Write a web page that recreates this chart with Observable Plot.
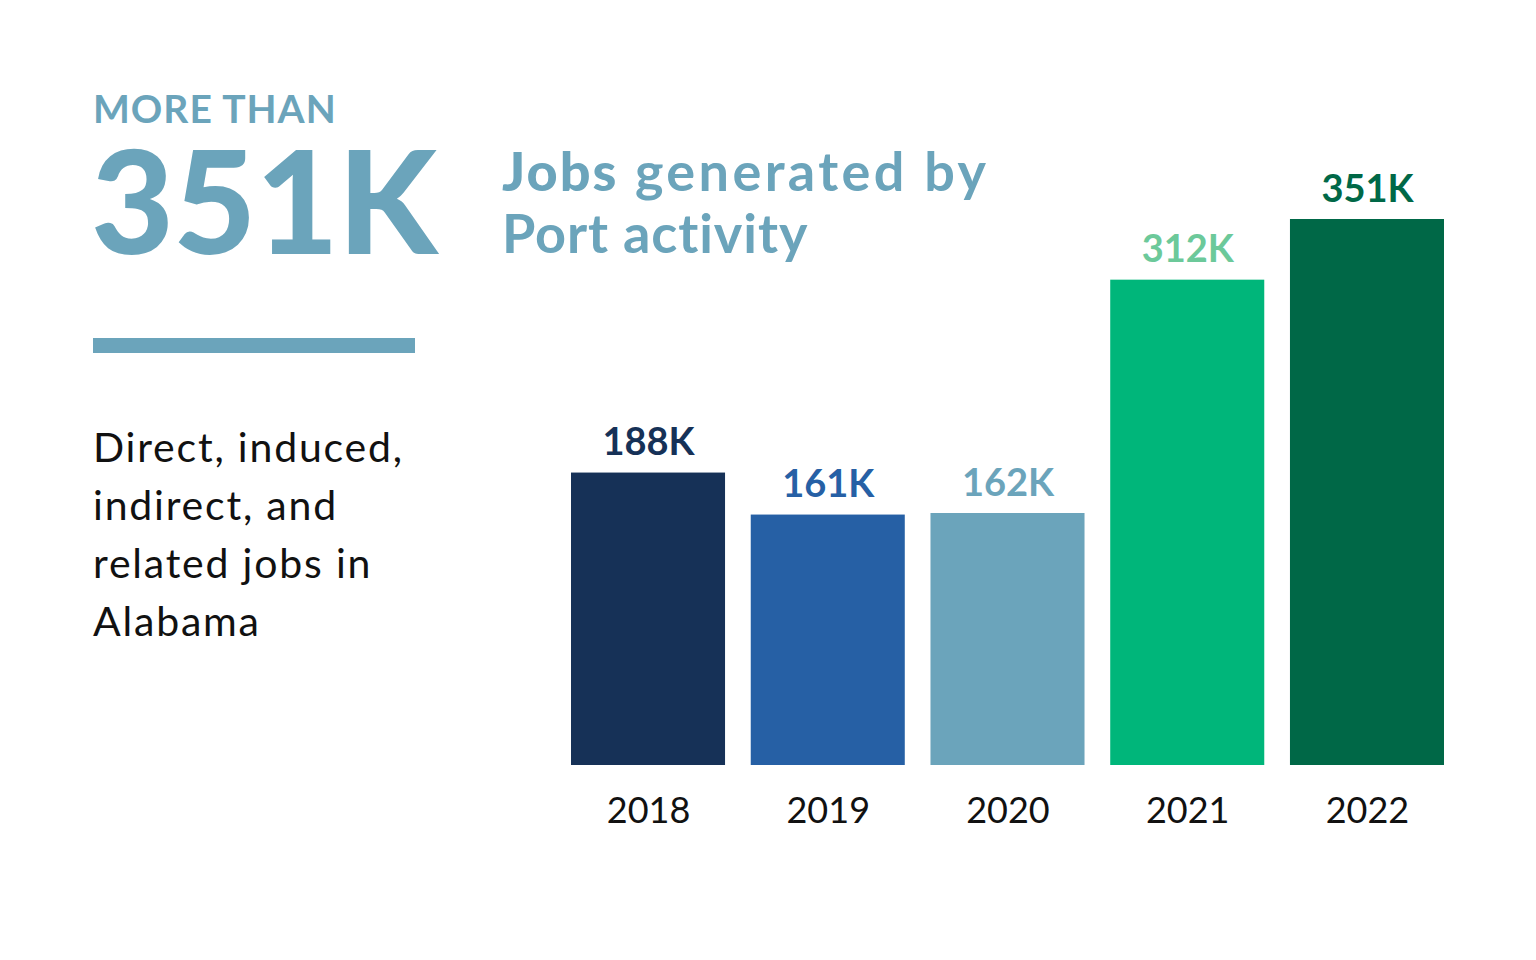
<!DOCTYPE html>
<html>
<head>
<meta charset="utf-8">
<script src="https://cdn.jsdelivr.net/npm/d3@7"></script>
<script src="https://cdn.jsdelivr.net/npm/@observablehq/plot@0.6"></script>
<style>
  html, body { margin: 0; padding: 0; background: #fff; }
  #wrap { position: relative; width: 1536px; height: 960px; overflow: hidden; font-family: Lato, sans-serif; }
  #chart { position: absolute; left: 0; top: 0; }
  .t { position: absolute; white-space: nowrap; margin: 0; }
  #more { left: 93px; top: 84px; font-size: 39px; line-height: 48px; font-weight: 700; color: #6ba4bb; letter-spacing: 1px; }
  #big { left: 91px; top: 144px; font-size: 143px; line-height: 110px; font-weight: 900; color: #6ba4bb; letter-spacing: -0.6px; }
  #jobs1 { left: 502px; top: 140px; font-size: 54px; line-height: 62px; font-weight: 700; color: #6ba4bb; letter-spacing: 3.4px; }
  #jobs1 b { font-weight: 900; letter-spacing: 2px; }
  #jobs2 { left: 502px; top: 202px; font-size: 54px; line-height: 62px; font-weight: 700; color: #6ba4bb; letter-spacing: 0.9px; }
  #rule { left: 93px; top: 338px; width: 322px; height: 15px; background: #6ba4bb; }
  #desc { left: 93px; top: 418px; font-size: 41px; line-height: 58px; font-weight: 400; color: #111; letter-spacing: 1.8px; }
</style>
</head>
<body>
<div id="wrap">
  <div id="chart"></div>
  <div class="t" id="more">MORE THAN</div>
  <div class="t" id="big">351K</div>
  <div class="t" id="jobs1"><b>Jobs</b> generated by</div>
  <div class="t" id="jobs2">Port activity</div>
  <div class="t" id="rule"></div>
  <div class="t" id="desc">Direct, induced,<br>indirect, and<br>related jobs in<br>Alabama</div>
</div>
<script>
const years = ["2018", "2019", "2020", "2021", "2022"];
const jobs = [188, 161, 162, 312, 351];
const labels = ["188K", "161K", "162K", "312K", "351K"];
const barColors = ["#163157", "#2660a5", "#6ba4bb", "#00b67a", "#006847"];
const labelColors = ["#163157", "#2660a5", "#6ba4bb", "#6cc99a", "#006847"];

const data = years.map((y, i) => ({year: y, value: jobs[i], label: labels[i], bar: barColors[i], lab: labelColors[i]}));

const chart = Plot.plot({
  width: 1536,
  height: 960,
  marginLeft: 571,
  marginRight: 92,
  marginTop: 219,
  marginBottom: 195,
  style: {fontFamily: "Lato, sans-serif", background: "transparent"},
  x: {domain: years, paddingInner: 0.143, paddingOuter: 0, round: false, label: null},
  y: {domain: [0, d3.max(jobs)], axis: null},
  marks: [
    Plot.barY(data, {x: "year", y: "value", fill: d => d.bar}),
    Plot.text(data, {x: "year", y: "value", text: "label", fill: d => d.lab, lineAnchor: "bottom", dy: -18, fontSize: 38, fontWeight: 700}),
    Plot.axisX({tickSize: 0, tickPadding: 32, fontSize: 36, fill: "#111", fontWeight: 400, label: null})
  ]
});
document.getElementById("chart").appendChild(chart);
</script>
</body>
</html>
